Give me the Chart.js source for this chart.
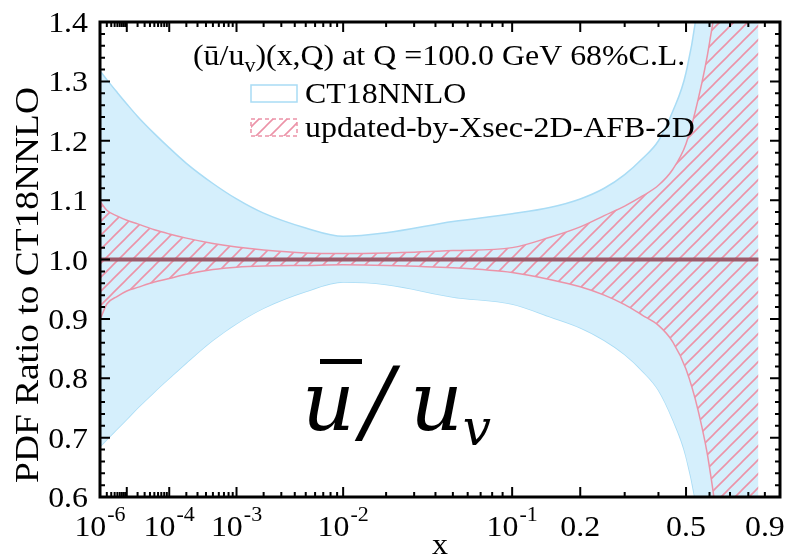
<!DOCTYPE html>
<html>
<head>
<meta charset="utf-8">
<script src="https://cdn.jsdelivr.net/npm/chart.js@4.4.1/dist/chart.umd.min.js"></script>
<style>
  html, body { margin: 0; padding: 0; background: #fff; }
  #wrap { width: 790px; height: 558px; }
</style>
</head>
<body>
<div id="wrap"><canvas id="c" width="790" height="558"></canvas></div>
<script>
'use strict';
// ū/u_v ratio plot, CT18NNLO vs updated-by-Xsec-2D-AFB-2D, x axis on x^0.2 scale

// ---------- dane ----------
const xs = [1e-6, 2e-6, 5e-6, 1e-5, 2e-5, 5e-5, 1e-4, 2e-4, 5e-4, 1e-3, 2e-3, 5e-3,
  1e-2, 2e-2, 5e-2, 0.1, 0.15, 0.2, 0.25, 0.3, 0.35, 0.4, 0.45, 0.5, 0.55, 0.6,
  0.65, 0.7, 0.75, 0.8, 0.86];
const ct18Up = [1.318, 1.303, 1.281, 1.262, 1.241, 1.212, 1.188, 1.162, 1.128, 1.102, 1.078, 1.053,
  1.039, 1.045, 1.064, 1.077, 1.088, 1.102, 1.12, 1.143, 1.17, 1.20, 1.25, 1.315, 1.44, 1.7,
  2.1, 2.5, 2.9, 3.3, 3.7];
const ct18Lo = [0.685, 0.697, 0.715, 0.731, 0.75, 0.777, 0.80, 0.826, 0.864, 0.892, 0.918, 0.946,
  0.962, 0.958, 0.937, 0.925, 0.903, 0.885, 0.864, 0.84, 0.812, 0.78, 0.73, 0.668, 0.56, 0.35,
  0.05, -0.25, -0.55, -0.85, -1.15];
const updUp = [1.098, 1.083, 1.073, 1.066, 1.06, 1.05, 1.043, 1.036, 1.027, 1.021, 1.016, 1.011,
  1.01, 1.011, 1.015, 1.02, 1.038, 1.055, 1.074, 1.09, 1.107, 1.125, 1.152, 1.195, 1.27, 1.365,
  1.5, 1.8, 2.2, 2.6, 3.0];
const updLo = [0.898, 0.925, 0.938, 0.947, 0.953, 0.962, 0.968, 0.975, 0.983, 0.987, 0.989, 0.99,
  0.991, 0.99, 0.986, 0.978, 0.966, 0.954, 0.94, 0.924, 0.906, 0.889, 0.861, 0.815, 0.745, 0.65,
  0.5, 0.2, -0.2, -0.6, -1.0];
const central = xs.map(() => 1.0);

const yTicks = [0.6, 0.7, 0.8, 0.9, 1.0, 1.1, 1.2, 1.3, 1.4];
const yTickLabels = ['0.6', '0.7', '0.8', '0.9', '1.0', '1.1', '1.2', '1.3', '1.4'];
const xTicks = [1e-6, 1e-4, 1e-3, 1e-2, 1e-1, 0.2, 0.5, 0.9];
const xTickBase = ['10', '10', '10', '10', '10', '0.2', '0.5', '0.9'];
const xTickExp = ['-6', '-4', '-3', '-2', '-1', '', '', ''];

// ---------- skala x^0.2 ----------
const P = 0.2;
class PowerScale extends Chart.LinearScale {
  getPixelForValue(v) {
    const a = Math.pow(this.min, P), b = Math.pow(this.max, P);
    return this.getPixelForDecimal((Math.pow(v, P) - a) / (b - a));
  }
  getValueForPixel(px) {
    const a = Math.pow(this.min, P), b = Math.pow(this.max, P);
    return Math.pow(a + this.getDecimalForPixel(px) * (b - a), 1 / P);
  }
}
PowerScale.id = 'power';
PowerScale.defaults = Chart.LinearScale.defaults;
Chart.register(PowerScale);

// ---------- style ----------
const FONT = '"Liberation Serif","Times New Roman",serif';
const MATH = '"DejaVu Serif",serif';
const SX = 1.1;               // szerszy krój jak w oryginale
const BLUE_FILL = '#d5effc';
const BLUE_LINE = '#a9dcf5';
const PINK = '#ec93a8';
const MID = '#9d5b6b';

function hatch(color, s = 14) {
  const c = document.createElement('canvas');
  c.width = c.height = s;
  const g = c.getContext('2d');
  g.strokeStyle = color; g.lineWidth = 1.6;
  g.beginPath();
  g.moveTo(0, s); g.lineTo(s, 0);
  g.moveTo(-s / 2, s / 2); g.lineTo(s / 2, -s / 2);
  g.moveTo(s / 2, s * 1.5); g.lineTo(s * 1.5, s / 2);
  g.stroke();
  return g.createPattern(c, 'repeat');
}
const pts = arr => xs.map((x, i) => ({ x, y: arr[i] }));

// tekst rozciągnięty w poziomie; zwraca szerokość
function txt(ctx, s, x, y, size, align = 'left', font = FONT, style = '') {
  ctx.font = `${style}${size}px ${font}`;
  const w = ctx.measureText(s).width * SX;
  const x0 = align === 'center' ? x - w / 2 : align === 'right' ? x - w : x;
  ctx.save();
  ctx.translate(x0, y); ctx.scale(SX, 1);
  ctx.textAlign = 'left';
  ctx.fillText(s, 0, 0);
  ctx.restore();
  return w;
}
function txtW(ctx, s, size, font = FONT, style = '') {
  ctx.font = `${style}${size}px ${font}`;
  return ctx.measureText(s).width * SX;
}

// ---------- ramka, osie, legenda ----------
const decor = {
  id: 'decor',
  afterDraw(chart) {
    const { ctx, chartArea: a, scales: { x, y } } = chart;
    ctx.save();
    ctx.strokeStyle = '#000'; ctx.fillStyle = '#000';

    const tick = (px, len, horiz) => {
      ctx.beginPath();
      if (horiz) {
        ctx.moveTo(px, a.bottom); ctx.lineTo(px, a.bottom - len);
        ctx.moveTo(px, a.top); ctx.lineTo(px, a.top + len);
      } else {
        ctx.moveTo(a.left, px); ctx.lineTo(a.left + len, px);
        ctx.moveTo(a.right, px); ctx.lineTo(a.right - len, px);
      }
      ctx.stroke();
    };
    ctx.lineWidth = 2;
    for (let e = -6; e <= -1; e++) {
      tick(x.getPixelForValue(Math.pow(10, e)), 10, true);
      if (e < -1) for (let m = 2; m <= 9; m++) tick(x.getPixelForValue(m * Math.pow(10, e)), 5, true);
    }
    [0.2, 0.5].forEach(v => tick(x.getPixelForValue(v), 10, true));
    [0.3, 0.4, 0.6, 0.7, 0.8, 0.9].forEach(v => tick(x.getPixelForValue(v), 5, true));
    for (let i = 0; i <= 40; i++) {
      tick(y.getPixelForValue(0.6 + i * 0.02), i % 5 === 0 ? 10 : 5, false);
    }
    ctx.lineWidth = 3;
    ctx.strokeRect(a.left, a.top, a.right - a.left, a.bottom - a.top);

    // y tick labels
    ctx.textBaseline = 'alphabetic';
    yTicks.forEach((v, i) => txt(ctx, yTickLabels[i], 88, y.getPixelForValue(v) + 10, 29, 'right'));

    // x tick labels z wykładnikami
    xTicks.forEach((v, i) => {
      const px = x.getPixelForValue(v);
      const wb = txtW(ctx, xTickBase[i], 29);
      const we = xTickExp[i] ? txtW(ctx, xTickExp[i], 20) + 1 : 0;
      const x0 = px - (wb + we) / 2;
      txt(ctx, xTickBase[i], x0, 536, 29);
      if (we) txt(ctx, xTickExp[i], x0 + wb + 1, 521, 20);
    });

    // tytuły osi
    txt(ctx, 'x', (a.left + a.right) / 2, 554, 29, 'center');
    ctx.save();
    ctx.translate(38, 285); ctx.rotate(-Math.PI / 2);
    txt(ctx, 'PDF Ratio to CT18NNLO', 0, 0, 34, 'center');
    ctx.restore();

    // legenda
    let cx = 193;
    cx += txt(ctx, '(ū/u', cx, 65, 29);
    cx += txt(ctx, 'v', cx, 72, 20);
    txt(ctx, ')(x,Q) at Q =100.0 GeV 68%C.L.', cx, 65, 29);

    ctx.lineWidth = 1.5;
    ctx.strokeStyle = BLUE_LINE; ctx.fillStyle = '#fff';
    ctx.fillRect(251, 85, 46, 17); ctx.strokeRect(251, 85, 46, 17);
    ctx.fillStyle = chart.$hatch; ctx.fillRect(251, 119, 46, 17);
    ctx.setLineDash([4, 3]); ctx.strokeStyle = PINK; ctx.strokeRect(251, 119, 46, 17);
    ctx.setLineDash([]);
    ctx.fillStyle = '#000';
    txt(ctx, 'CT18NNLO', 305, 103, 29);
    txt(ctx, 'updated-by-Xsec-2D-AFB-2D', 305, 137, 29);

    // duży napis ū/u_v
    ctx.font = `italic 82px ${MATH}`;
    ctx.textAlign = 'left';
    const wu = ctx.measureText('u').width;
    ctx.fillText('u', 302, 430);
    ctx.fillRect(320, 359, 42, 5);
    ctx.font = `italic 92px ${MATH}`;
    ctx.fillText('/', 362, 432);
    ctx.font = `italic 82px ${MATH}`;
    ctx.fillText('u', 410, 430);
    ctx.font = `italic 50px ${MATH}`;
    ctx.fillText('v', 410 + wu, 445);
    ctx.restore();
  }
};

// ---------- wykres ----------
const hatchFill = hatch(PINK);
const lineDs = (data, color, w, fill, bg, order) => ({
  data: pts(data), borderColor: color, borderWidth: w, fill, backgroundColor: bg,
  pointRadius: 0, cubicInterpolationMode: 'monotone', order,
});

const chart = new Chart(document.getElementById('c'), {
  type: 'line',
  data: {
    datasets: [
      lineDs(central, MID, 4, false, MID, 0),
      lineDs(updUp, PINK, 1.5, '+1', hatchFill, 1),
      lineDs(updLo, PINK, 1.5, false, hatchFill, 1),
      lineDs(ct18Up, BLUE_LINE, 1.5, '+1', BLUE_FILL, 2),
      lineDs(ct18Lo, BLUE_LINE, 1.5, false, BLUE_FILL, 2),
    ],
  },
  options: {
    responsive: false, animation: false, devicePixelRatio: 1,
    layout: { padding: { left: 100, right: 10, top: 22, bottom: 61 } },
    plugins: { legend: { display: false }, tooltip: { enabled: false } },
    scales: {
      x: { type: 'power', min: 1e-6, max: 1, display: false },
      y: { type: 'linear', min: 0.6, max: 1.4, display: false },
    },
  },
  plugins: [decor],
});
chart.$hatch = hatchFill;
chart.draw();
</script>
</body>
</html>
